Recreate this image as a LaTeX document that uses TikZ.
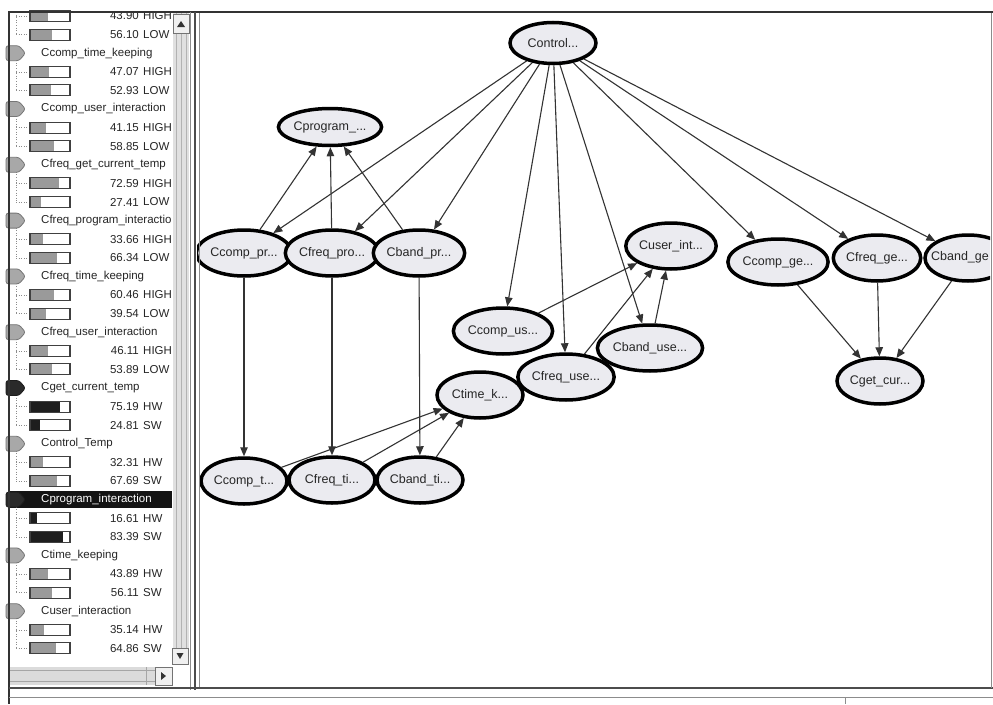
\documentclass[tikz,border=0pt]{standalone}
\usepackage{fontspec}
\setmainfont{Liberation Sans}
\usetikzlibrary{shapes.geometric,arrows.meta}
\definecolor{nodefill}{HTML}{EBEBF0}
\definecolor{bargray}{HTML}{9A9A9A}
\definecolor{bardark}{HTML}{1E1E1E}
\definecolor{icongray}{HTML}{A8A8A8}
\definecolor{icondark}{HTML}{2A2A2A}
\definecolor{txt}{HTML}{262626}
\tikzset{
  bnode/.style={ellipse, draw=black, line width=3.5pt, fill=nodefill, inner sep=0pt,
    minimum width=86pt, minimum height=46pt, text=txt,
    font=\fontsize{12.5}{14}\selectfont},
  nodelabel/.style={inner sep=0pt, text=txt, font=\fontsize{12.5}{14}\selectfont},
  edge/.style={draw=black!80, line width=1.1pt, -{Triangle[length=9pt,width=7.5pt]}},
  hdrtext/.style={anchor=west, inner sep=0pt, text=txt, font=\fontsize{11.5}{13}\selectfont},
  valtext/.style={inner sep=0pt, text=txt, font=\fontsize{11.5}{13}\selectfont},
  barbox/.style={draw=black!75, line width=1.1pt},
  treeline/.style={draw=black!45, line width=0.6pt, dotted},
  frameline/.style={draw=black!80, line width=2.5pt},
  panelline/.style={draw=black!45, line width=1pt},
}
\newcommand{\vrow}[4]{%
  \pgfmathsetmacro{\yy}{16+18.6*#1}
  \pgfmathsetmacro{\ww}{30+0.4*#2}
  \draw[treeline] (16,\yy) -- (30,\yy);
  \fill[white] (30,\yy-5.5) rectangle (70,\yy+5.5);
  \fill[#4] (30,\yy-5.5) rectangle (\ww,\yy+5.5);
  \draw[barbox] (30,\yy-5.5) rectangle (70,\yy+5.5);
  \node[valtext,anchor=east] (val#1) at (139,\yy) {#2};
  \node[valtext,anchor=west] (lab#1) at (143,\yy) {#3};
}
\newcommand{\hdr}[4]{%
  \pgfmathsetmacro{\yy}{16+18.6*#1}
  \draw[treeline] (16,\yy+7) -- (16,\yy+37.2);
  \filldraw[fill=#3, draw=#3!70!black, line width=0.8pt, rounded corners=2.5pt]
    (6,\yy-7.5) -- (19,\yy-7.5) -- (25.5,\yy) -- (19,\yy+7.5) -- (6,\yy+7.5) -- cycle;
  \node[hdrtext,#4] (hdr#1) at (41,\yy) {#2};
}
\begin{document}
\begin{tikzpicture}[x=1pt,y=-1pt]
\useasboundingbox (0,0) rectangle (993,704);
\fill[white] (0,0) rectangle (993,704);

% ---------- left list panel ----------
\draw[treeline] (16,12) -- (16,34.6);
\vrow{0}{43.90}{HIGH}{bargray}
\vrow{1}{56.10}{LOW}{bargray}
\hdr{2}{Ccomp\_time\_keeping}{icongray}{}
\vrow{3}{47.07}{HIGH}{bargray}
\vrow{4}{52.93}{LOW}{bargray}
\hdr{5}{Ccomp\_user\_interaction}{icongray}{}
\vrow{6}{41.15}{HIGH}{bargray}
\vrow{7}{58.85}{LOW}{bargray}
\hdr{8}{Cfreq\_get\_current\_temp}{icongray}{}
\vrow{9}{72.59}{HIGH}{bargray}
\vrow{10}{27.41}{LOW}{bargray}
\hdr{11}{Cfreq\_program\_interactio}{icongray}{}
\vrow{12}{33.66}{HIGH}{bargray}
\vrow{13}{66.34}{LOW}{bargray}
\hdr{14}{Cfreq\_time\_keeping}{icongray}{}
\vrow{15}{60.46}{HIGH}{bargray}
\vrow{16}{39.54}{LOW}{bargray}
\hdr{17}{Cfreq\_user\_interaction}{icongray}{}
\vrow{18}{46.11}{HIGH}{bargray}
\vrow{19}{53.89}{LOW}{bargray}
\hdr{20}{Cget\_current\_temp}{icondark}{}
\vrow{21}{75.19}{HW}{bardark}
\vrow{22}{24.81}{SW}{bardark}
\hdr{23}{Control\_Temp}{icongray}{}
\vrow{24}{32.31}{HW}{bargray}
\vrow{25}{67.69}{SW}{bargray}
\fill[black!92] (10,{16+18.6*26-8.5}) rectangle (172,{16+18.6*26+8.5});
\hdr{26}{Cprogram\_interaction}{icondark}{text=white}
\vrow{27}{16.61}{HW}{bardark}
\vrow{28}{83.39}{SW}{bardark}
\hdr{29}{Ctime\_keeping}{icongray}{}
\vrow{30}{43.89}{HW}{bargray}
\vrow{31}{56.11}{SW}{bargray}
\hdr{32}{Cuser\_interaction}{icongray}{}
\vrow{33}{35.14}{HW}{bargray}
\vrow{34}{64.86}{SW}{bargray}

% vertical scrollbar
\fill[black!12] (173,13) rectangle (189,665);
\draw[black!30, line width=0.6pt] (176,13) -- (176,665) (181,13) -- (181,665) (186,13) -- (186,665);
\filldraw[fill=black!6, draw=black!55, line width=0.8pt] (173,14) rectangle (189,33);
\fill[black!80] (177,27) -- (185,27) -- (181,21) -- cycle;
\filldraw[fill=black!6, draw=black!55, line width=0.8pt] (172,648) rectangle (188,664);
\fill[black!80] (176.5,653) -- (183.5,653) -- (180,659) -- cycle;
% horizontal scrollbar
\fill[black!14] (10,667) rectangle (172,685);
\draw[black!35, line width=0.6pt] (10,670) -- (155,670) (10,681) -- (155,681) (146,667) -- (146,685);
\filldraw[fill=black!6, draw=black!55, line width=0.8pt] (155,667) rectangle (172,685);
\fill[black!80] (161,672) -- (161,680) -- (166,676) -- cycle;

% ---------- frame ----------
\draw[frameline] (8,12) -- (993,12);
\draw[frameline] (9,11) -- (9,704);
\draw[panelline] (190,12) -- (190,690);
\draw[draw=black!70, line width=1.5pt] (195,12) -- (195,690);
\draw[draw=black!70, line width=1.5pt] (9,688) -- (993,688);
\draw[panelline] (9,697) -- (993,697);
\draw[panelline] (845,697) -- (845,704);
\draw[panelline] (991,13) -- (991,688);

% ---------- graph panel ----------
\begin{scope}
\clip (197,14) rectangle (990,686);
\node[bnode, minimum height=41pt] (ctrl) at (553,43) {Control...};
\node[bnode, minimum height=37pt] (cprog) at (330,127) {Cprogram\_...};
\node[bnode] (ccpr) at (244,253) {Ccomp\_pr...};
\node[bnode] (cfpr) at (332,253) {Cfreq\_pro...};
\node[bnode] (cbpr) at (419,253) {Cband\_pr...};
\node[bnode] (cuser) at (671,246) {Cuser\_int...};
\node[bnode] (ccus) at (503,331) {Ccomp\_us...};
\node[bnode] (cfus) at (566,377) {Cfreq\_use...};
\node[bnode] (cbus) at (650,348) {Cband\_use...};
\node[bnode] (ctime) at (480,395) {Ctime\_k...};
\node[bnode] (cct) at (244,481) {Ccomp\_t...};
\node[bnode] (cft) at (332,480) {Cfreq\_ti...};
\node[bnode] (cbt) at (420,480) {Cband\_ti...};
\node[bnode] (ccge) at (778,262) {Ccomp\_ge...};
\node[bnode] (cfge) at (877,258) {Cfreq\_ge...};
\node[bnode] (cbge) at (968,258) {};
\node[nodelabel] (cbgetext) at (960,257) {Cband\_ge};
\node[bnode] (cget) at (880,381) {Cget\_cur...};

\foreach \t in {ccpr,cfpr,cbpr,ccus,cfus,cbus,ccge,cfge,cbge}
  \draw[edge] (ctrl) -- (\t);
\foreach \s in {ccpr,cfpr,cbpr}
  \draw[edge] (\s) -- (cprog);
\draw[edge] (ccpr) -- (cct);
\draw[edge] (cfpr) -- (cft);
\draw[edge] (cbpr) -- (cbt);
\foreach \s in {cct,cft,cbt}
  \draw[edge] (\s) -- (ctime);
\foreach \s in {ccus,cfus,cbus}
  \draw[edge] (\s) -- (cuser);
\foreach \s in {ccge,cfge,cbge}
  \draw[edge] (\s) -- (cget);
\end{scope}
\draw[panelline] (199,13) -- (199,687);
\end{tikzpicture}
\end{document}
